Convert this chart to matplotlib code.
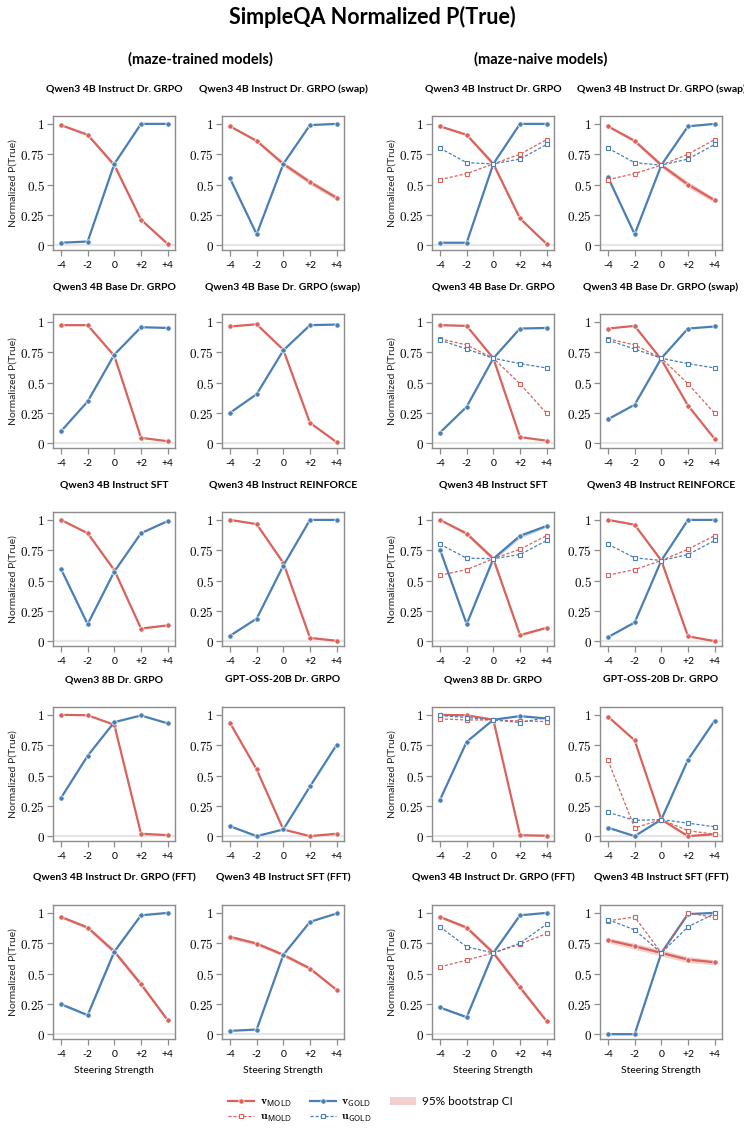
import matplotlib
matplotlib.use('Agg')
import matplotlib.pyplot as plt
from matplotlib.lines import Line2D
from matplotlib.patches import Patch

plt.rcParams['mathtext.fontset'] = 'cm'
plt.rcParams['font.family'] = ['Lato', 'DejaVu Sans']

RED = '#d9625a'
BLUE = '#4a7fb5'

steps = [-4, -2, 0, 2, 4]
step_labels = ['-4', '-2', '0', '+2', '+4']

titles = ['Qwen3 4B Instruct Dr. GRPO', 'Qwen3 4B Instruct Dr. GRPO (swap)',
          'Qwen3 4B Base Dr. GRPO', 'Qwen3 4B Base Dr. GRPO (swap)',
          'Qwen3 4B Instruct SFT', 'Qwen3 4B Instruct REINFORCE',
          'Qwen3 8B Dr. GRPO', 'GPT-OSS-20B Dr. GRPO',
          'Qwen3 4B Instruct Dr. GRPO (FFT)', 'Qwen3 4B Instruct SFT (FFT)']

# maze-trained models (v vectors only)
trained_v_mold = [
    [0.99, 0.91, 0.66, 0.21, 0.01],
    [0.98, 0.86, 0.67, 0.52, 0.39],
    [0.973, 0.973, 0.72, 0.044, 0.016],
    [0.962, 0.98, 0.77, 0.167, 0.008],
    [1.0, 0.89, 0.585, 0.104, 0.13],
    [1.0, 0.965, 0.645, 0.027, 0.003],
    [1.0, 0.997, 0.918, 0.02, 0.008],
    [0.934, 0.55, 0.055, 0.0, 0.02],
    [0.967, 0.879, 0.681, 0.412, 0.115],
    [0.802, 0.747, 0.654, 0.541, 0.365],
]
trained_v_gold = [
    [0.02, 0.03, 0.67, 1.0, 1.0],
    [0.55, 0.09, 0.67, 0.99, 1.0],
    [0.098, 0.344, 0.73, 0.956, 0.95],
    [0.25, 0.404, 0.765, 0.973, 0.978],
    [0.595, 0.14, 0.574, 0.89, 0.99],
    [0.044, 0.186, 0.623, 1.0, 1.0],
    [0.315, 0.663, 0.94, 0.995, 0.93],
    [0.082, 0.0, 0.055, 0.41, 0.753],
    [0.247, 0.157, 0.681, 0.98, 1.0],
    [0.027, 0.038, 0.654, 0.926, 0.995],
]
trained_ci_mold = [
    [0.005, 0.01, 0.02, 0.01, 0.005],
    [0.008, 0.012, 0.02, 0.02, 0.02],
    [0, 0, 0, 0, 0],
    [0, 0, 0, 0, 0],
    [0, 0.005, 0.01, 0.005, 0],
    [0, 0.005, 0.015, 0.005, 0],
    [0, 0, 0, 0, 0],
    [0, 0, 0, 0, 0],
    [0.01, 0.015, 0.02, 0.02, 0.01],
    [0.015, 0.015, 0.015, 0.015, 0.01],
]
trained_ci_gold = [
    [0, 0, 0, 0, 0], [0, 0, 0, 0, 0], [0, 0, 0, 0, 0], [0, 0, 0, 0, 0],
    [0, 0, 0, 0, 0], [0, 0, 0, 0, 0], [0, 0, 0, 0, 0], [0, 0, 0, 0, 0],
    [0.01, 0.01, 0.01, 0, 0], [0, 0, 0, 0, 0],
]

# maze-naive models (v and u vectors)
naive_v_mold = [
    [0.98, 0.91, 0.67, 0.22, 0.01],
    [0.98, 0.86, 0.66, 0.50, 0.37],
    [0.973, 0.967, 0.70, 0.05, 0.02],
    [0.945, 0.967, 0.69, 0.31, 0.035],
    [1.0, 0.887, 0.68, 0.05, 0.11],
    [1.0, 0.96, 0.665, 0.04, 0.0],
    [1.0, 0.997, 0.96, 0.008, 0.003],
    [0.986, 0.79, 0.137, 0.0, 0.016],
    [0.967, 0.879, 0.67, 0.385, 0.107],
    [0.775, 0.725, 0.67, 0.615, 0.593],
]
naive_v_gold = [
    [0.02, 0.02, 0.67, 1.0, 1.0],
    [0.56, 0.09, 0.66, 0.98, 1.0],
    [0.087, 0.30, 0.70, 0.945, 0.95],
    [0.197, 0.317, 0.70, 0.945, 0.962],
    [0.755, 0.14, 0.68, 0.868, 0.95],
    [0.033, 0.154, 0.665, 1.0, 1.0],
    [0.30, 0.778, 0.96, 0.99, 0.97],
    [0.07, 0.0, 0.137, 0.63, 0.953],
    [0.22, 0.14, 0.67, 0.98, 1.0],
    [0.0, 0.0, 0.67, 0.99, 1.0],
]
naive_u_mold = [
    [0.54, 0.59, 0.67, 0.75, 0.87],
    [0.54, 0.59, 0.66, 0.75, 0.87],
    [0.86, 0.81, 0.70, 0.49, 0.245],
    [0.86, 0.81, 0.70, 0.49, 0.245],
    [0.544, 0.59, 0.68, 0.758, 0.87],
    [0.544, 0.59, 0.665, 0.758, 0.87],
    [0.967, 0.958, 0.958, 0.95, 0.945],
    [0.624, 0.068, 0.137, 0.045, 0.016],
    [0.555, 0.61, 0.67, 0.742, 0.83],
    [0.934, 0.967, 0.67, 1.0, 0.962],
]
naive_u_gold = [
    [0.80, 0.68, 0.67, 0.71, 0.83],
    [0.80, 0.68, 0.66, 0.71, 0.83],
    [0.85, 0.776, 0.70, 0.656, 0.62],
    [0.85, 0.776, 0.70, 0.656, 0.62],
    [0.80, 0.684, 0.68, 0.714, 0.83],
    [0.80, 0.687, 0.665, 0.714, 0.83],
    [0.995, 0.978, 0.958, 0.937, 0.978],
    [0.197, 0.13, 0.137, 0.107, 0.077],
    [0.885, 0.72, 0.67, 0.75, 0.907],
    [0.945, 0.86, 0.67, 0.885, 0.995],
]
naive_ci_mold = [
    [0.005, 0.01, 0.02, 0.01, 0.005],
    [0.008, 0.015, 0.02, 0.025, 0.02],
    [0, 0, 0, 0, 0],
    [0, 0, 0, 0, 0],
    [0.005, 0.015, 0.02, 0.01, 0.005],
    [0, 0.005, 0.01, 0.005, 0],
    [0, 0, 0, 0, 0],
    [0, 0, 0, 0, 0],
    [0.01, 0.015, 0.02, 0.02, 0.01],
    [0.02, 0.025, 0.025, 0.025, 0.02],
]
naive_ci_gold = [
    [0, 0, 0, 0, 0], [0, 0, 0, 0, 0], [0, 0, 0, 0, 0], [0, 0, 0, 0, 0],
    [0.005, 0.005, 0.015, 0.02, 0.01], [0, 0, 0, 0, 0],
    [0, 0, 0, 0, 0], [0, 0, 0, 0, 0],
    [0.01, 0.01, 0.01, 0, 0], [0.005, 0.005, 0.01, 0, 0],
]

W, H = 744, 1134
fig = plt.figure(figsize=(W / 100, H / 100), dpi=100)

lefts = [[53, 222], [432, 600]]
tops = [116, 314, 512, 707, 905]
aw, ah = 122, 134


def band(ax, y, ci, color):
    if max(ci) > 0:
        lo = [a - b for a, b in zip(y, ci)]
        hi = [a + b for a, b in zip(y, ci)]
        ax.fill_between(steps, lo, hi, color=color, alpha=0.3, lw=0, zorder=2)


def solid(ax, y, color):
    ax.plot(steps, y, color=color, lw=1.6, marker='o', ms=3.8,
            mec='white', mew=0.5, zorder=3)


def dashed(ax, y, color):
    ax.plot(steps, y, color=color, lw=0.9, ls=(0, (2.5, 1.5)), marker='s', ms=3.5,
            mfc='white', mec=color, mew=0.8, zorder=4)


for g in range(2):
    for i in range(10):
        r, c = divmod(i, 2)
        x0 = lefts[g][c]
        top = tops[r]
        ax = fig.add_axes([x0 / W, 1 - (top + ah) / H, aw / W, ah / H])
        ax.axhline(0, color='#e6e6e6', lw=1.6, zorder=1)
        if g == 0:
            band(ax, trained_v_mold[i], trained_ci_mold[i], RED)
            band(ax, trained_v_gold[i], trained_ci_gold[i], BLUE)
            solid(ax, trained_v_mold[i], RED)
            solid(ax, trained_v_gold[i], BLUE)
        else:
            band(ax, naive_v_mold[i], naive_ci_mold[i], RED)
            band(ax, naive_v_gold[i], naive_ci_gold[i], BLUE)
            solid(ax, naive_v_mold[i], RED)
            solid(ax, naive_v_gold[i], BLUE)
            dashed(ax, naive_u_mold[i], RED)
            dashed(ax, naive_u_gold[i], BLUE)
        ax.set_xlim(-4.6, 4.55)
        ax.set_ylim(-0.04, 1.065)
        ax.set_xticks(steps)
        ax.set_xticklabels(step_labels, fontsize=7.5)
        ax.set_yticks([0, 0.25, 0.5, 0.75, 1])
        ax.set_yticklabels(['$0$', '$0.25$', '$0.5$', '$0.75$', '$1$'], fontsize=9.5)
        for s in ax.spines.values():
            s.set_color('#8c8c8c')
            s.set_linewidth(1.0)
        ax.tick_params(color='#8c8c8c', length=4, width=0.9, pad=2)
        ax.tick_params(axis='x', pad=4)
        if c == 0:
            ax.set_ylabel('Normalized P(True)', fontsize=7.5, labelpad=2,
                          color='#222222')
        if r == 4:
            ax.set_xlabel('Steering Strength', fontsize=7.5, labelpad=5)
        fig.text((x0 + aw / 2) / W, 1 - (top - 27) / H, titles[i],
                 ha='center', va='center', fontsize=7.5, fontweight='bold')

fig.text(372 / W, 1 - 17 / H, 'SimpleQA Normalized P(True)', ha='center',
         va='center', fontsize=15.5, fontweight='bold')
fig.text(200 / W, 1 - 59 / H, '(maze-trained models)', ha='center',
         va='center', fontsize=10.5, fontweight='bold')
fig.text(541 / W, 1 - 59 / H, '(maze-naive models)', ha='center',
         va='center', fontsize=10.5, fontweight='bold')

handles = [
    Line2D([], [], color=RED, lw=1.6, marker='o', ms=3.8, mec='white', mew=0.5),
    Line2D([], [], color=RED, lw=0.9, ls=(0, (2.5, 1.5)), marker='s', ms=3.5,
           mfc='white', mec=RED, mew=0.8),
    Line2D([], [], color=BLUE, lw=1.6, marker='o', ms=3.8, mec='white', mew=0.5),
    Line2D([], [], color=BLUE, lw=0.9, ls=(0, (2.5, 1.5)), marker='s', ms=3.5,
           mfc='white', mec=BLUE, mew=0.8),
    Patch(facecolor=RED, alpha=0.3, lw=0),
]
labels = [r'$\mathbf{v}_{\mathsf{MOLD}}$', r'$\mathbf{u}_{\mathsf{MOLD}}$',
          r'$\mathbf{v}_{\mathsf{GOLD}}$', r'$\mathbf{u}_{\mathsf{GOLD}}$',
          '95% bootstrap CI']
fig.legend(handles, labels, loc='center', bbox_to_anchor=(370 / W, 1 - 1110 / H),
           ncol=3, frameon=False, fontsize=8.5, handlelength=2.2,
           columnspacing=1.5, labelspacing=0.15, handletextpad=0.5)

fig.savefig('out.png', dpi=100)
